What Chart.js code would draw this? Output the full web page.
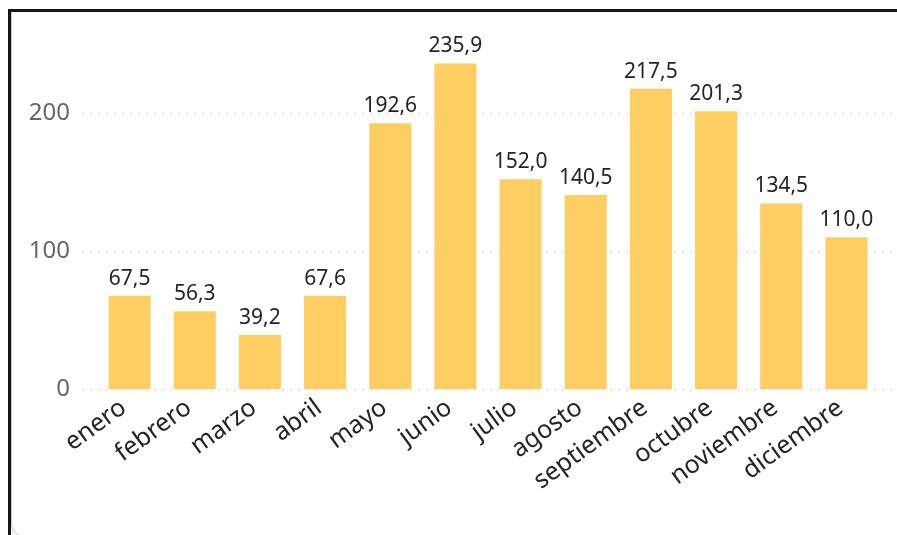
<!DOCTYPE html>
<html>
<head>
<meta charset="utf-8">
<script src="https://cdn.jsdelivr.net/npm/chart.js@4.4.1/dist/chart.umd.min.js"></script>
<style>
  html, body { margin: 0; padding: 0; background: #fff; }
  body { width: 897px; height: 535px; position: relative; overflow: hidden; }
  .frame { position: absolute; left: 8px; top: 9px; right: -20px; bottom: -20px;
           border-left: 3px solid #151515; border-top: 3px solid #151515; }
  .inner { position: absolute; left: 11px; top: 12px; right: -20px; bottom: -1px;
           border-left: 1px solid #c9c9c9; border-bottom: 1px solid #d6d6d6;
           border-bottom-left-radius: 12px; }
  #chart { position: absolute; left: 0; top: 0; }
</style>
</head>
<body>
<div class="frame"></div>
<div class="inner"></div>
<canvas id="chart" width="897" height="535"></canvas>
<script>
// valores mensuales
const months = ['enero', 'febrero', 'marzo', 'abril', 'mayo', 'junio', 'julio',
  'agosto', 'septiembre', 'octubre', 'noviembre', 'diciembre'];
const values = [67.5, 56.3, 39.2, 67.6, 192.6, 235.9, 152.0, 140.5, 217.5, 201.3, 134.5, 110.0];
const yTicks = [0, 100, 200];

const FONT = '"Noto Sans", "Open Sans", sans-serif';

const fmt = (v) => v.toFixed(1).replace('.', ',');

// lineas punteadas de fondo a todo el ancho
const dottedGrid = {
  id: 'dottedGrid',
  beforeDatasetsDraw: (chart) => {
    const ctx = chart.ctx;
    const y = chart.scales.y;
    ctx.save();
    ctx.strokeStyle = '#d9d9d9';
    ctx.lineWidth = 1.5;
    ctx.setLineDash([2, 6]);
    yTicks.forEach((t) => {
      const py = Math.round(y.getPixelForValue(t)) + 0.5;
      ctx.beginPath();
      ctx.moveTo(82, py);
      ctx.lineTo(897, py);
      ctx.stroke();
    });
    ctx.restore();
  },
};

// etiquetas de datos encima de cada barra
const barLabels = {
  id: 'barLabels',
  afterDatasetsDraw: (chart) => {
    const ctx = chart.ctx;
    const meta = chart.getDatasetMeta(0);
    ctx.save();
    ctx.font = '21px ' + FONT;
    ctx.fillStyle = '#252423';
    ctx.textAlign = 'center';
    ctx.textBaseline = 'alphabetic';
    meta.data.forEach((bar, i) => {
      ctx.fillText(fmt(values[i]), bar.x, bar.y - 11);
    });
    ctx.restore();
  },
};

new Chart(document.getElementById('chart'), {
  type: 'bar',
  data: {
    labels: months,
    datasets: [{
      data: values,
      backgroundColor: '#FFCE63',
      borderWidth: 0,
      categoryPercentage: 1,
      barPercentage: 0.645,
    }],
  },
  options: {
    responsive: false,
    animation: false,
    layout: { padding: { top: 44, right: 18, left: 0, bottom: 0 } },
    plugins: { legend: { display: false }, tooltip: { enabled: false } },
    scales: {
      x: {
        grid: { display: false, drawTicks: false },
        border: { display: false },
        ticks: {
          color: '#252423',
          font: { family: FONT, size: 25 },
          minRotation: 36,
          maxRotation: 36,
          padding: 4,
          labelOffset: -6,
          autoSkip: false,
        },
        afterFit: (s) => { s.height = 146; },
      },
      y: {
        min: 0,
        max: 250,
        grid: { display: false, drawTicks: false },
        border: { display: false },
        ticks: {
          color: '#666666',
          font: { family: FONT, size: 24 },
          padding: 27,
        },
        afterBuildTicks: (s) => { s.ticks = yTicks.map((v) => ({ value: v })); },
        afterFit: (s) => { s.width = 97; },
      },
    },
  },
  plugins: [dottedGrid, barLabels],
});
</script>
</body>
</html>
